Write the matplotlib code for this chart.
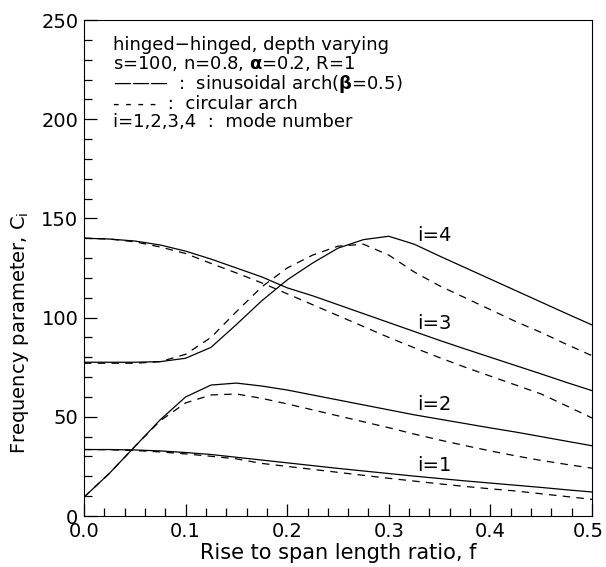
import matplotlib
matplotlib.use("Agg")
import matplotlib.pyplot as plt
from matplotlib.ticker import MultipleLocator, FormatStrFormatter
from matplotlib.transforms import ScaledTranslation

# rise to span length ratio
f = [0.0, 0.025, 0.05, 0.075, 0.1, 0.125, 0.15, 0.175, 0.2, 0.225, 0.25,
     0.275, 0.3, 0.325, 0.35, 0.375, 0.4, 0.425, 0.45, 0.475, 0.5]

# sinusoidal arch (solid)
sin_1 = [33.5, 33.5, 33.3, 32.8, 32.0, 31.0, 29.6, 28.2, 26.8, 25.4, 24.0,
         22.7, 21.4, 20.1, 18.9, 17.7, 16.6, 15.5, 14.4, 13.2, 12.1]
sin_2 = [9.5, 21.5, 35.0, 48.5, 60.0, 66.0, 67.0, 65.5, 63.5, 61.0, 58.5,
         56.0, 53.5, 51.0, 48.8, 46.6, 44.4, 42.3, 40.0, 37.7, 35.4]
sin_3 = [140.0, 139.6, 138.6, 136.6, 133.5, 129.5, 125.0, 120.5, 115.0, 111.0, 106.5,
         102.0, 97.5, 93.0, 88.5, 84.2, 80.0, 75.8, 71.6, 67.3, 63.2]
sin_4 = [77.5, 77.5, 77.5, 77.8, 79.5, 85.0, 96.5, 108.5, 119.0, 127.5, 135.0,
         139.3, 141.0, 137.0, 131.0, 125.2, 119.4, 113.6, 107.8, 102.0, 96.3]

# circular arch (dashed)
cir_1 = [33.5, 33.4, 33.0, 32.3, 31.3, 30.1, 28.8, 26.5, 25.0, 23.5, 22.0,
         20.5, 19.0, 17.6, 16.2, 14.9, 13.7, 12.6, 11.2, 9.8, 8.4]
cir_2 = [9.5, 21.5, 35.0, 48.0, 57.0, 61.0, 61.5, 59.3, 56.5, 53.5, 50.5,
         47.5, 44.5, 41.3, 38.3, 35.5, 32.8, 30.3, 28.0, 26.0, 24.1]
cir_3 = [140.0, 139.6, 138.2, 135.6, 132.3, 127.3, 122.5, 117.5, 112.0, 106.5, 101.0,
         95.5, 90.0, 84.8, 79.8, 75.0, 70.5, 66.0, 61.5, 55.5, 49.4]
cir_4 = [77.0, 77.0, 77.0, 77.8, 81.5, 90.0, 103.0, 115.5, 125.0, 131.5, 136.0,
         137.0, 131.5, 123.0, 116.0, 110.0, 104.0, 98.0, 92.5, 86.5, 80.8]

mode_labels = ["i=1", "i=2", "i=3", "i=4"]
label_x = 0.345
label_y = [25.3, 56.4, 96.8, 141.6]

info_lines = [
    "hinged\u2212hinged, depth varying",
    r"s=100, n=0.8, $\mathbf{\alpha}$=0.2, R=1",
    "\u2014\u2014\u2014  :  sinusoidal arch(" + r"$\mathbf{\beta}$" + "=0.5)",
    "- - - -  :  circular arch",
    "i=1,2,3,4  :  mode number",
]

plt.rcParams['font.family'] = ['DejaVu Sans']
plt.rcParams['mathtext.fontset'] = 'dejavusans'

fig = plt.figure(figsize=(6.06, 5.67), dpi=100)
ax = fig.add_axes([84 / 606, 1 - 516 / 567, 508 / 606, 496 / 567])

for s, c in zip([sin_1, sin_2, sin_3, sin_4], [cir_1, cir_2, cir_3, cir_4]):
    ax.plot(f, s, color='black', lw=0.9)
    ax.plot(f, c, color='black', lw=0.9, dashes=(6, 5))

for lab, y in zip(mode_labels, label_y):
    ax.text(label_x, y, lab, fontsize=14, ha='center', va='center')

ax.text(0.0285, 242, "\n".join(info_lines), fontsize=13, ha='left', va='top',
        linespacing=1.0)

ax.set_xlim(0, 0.5)
ax.set_ylim(0, 250)
ax.xaxis.set_major_locator(MultipleLocator(0.1))
ax.xaxis.set_minor_locator(MultipleLocator(0.02))
ax.xaxis.set_major_formatter(FormatStrFormatter('%.1f'))
ax.yaxis.set_major_locator(MultipleLocator(50))
ax.yaxis.set_minor_locator(MultipleLocator(10))
ax.tick_params(which='both', direction='in', top=False, right=False,
               labelsize=14, pad=4)
ax.tick_params(which='major', length=9, width=0.9)
ax.tick_params(which='minor', length=6, width=0.9)

ax.set_xlabel("Rise to span length ratio, f", fontsize=15, labelpad=2)
ax.set_ylabel(r"Frequency parameter, $\mathrm{C_i}$", fontsize=14)
ax.yaxis.set_label_coords(-0.105, 0.37)

# keep the last x tick label inside the figure edge
fig.canvas.draw()
for tick in ax.xaxis.get_major_ticks():
    if abs(tick.get_loc() - 0.5) < 1e-9:
        tick.label1.set_transform(tick.label1.get_transform()
                                  + ScaledTranslation(-3 / 72, 0, fig.dpi_scale_trans))

fig.savefig("out.png", dpi=100)
